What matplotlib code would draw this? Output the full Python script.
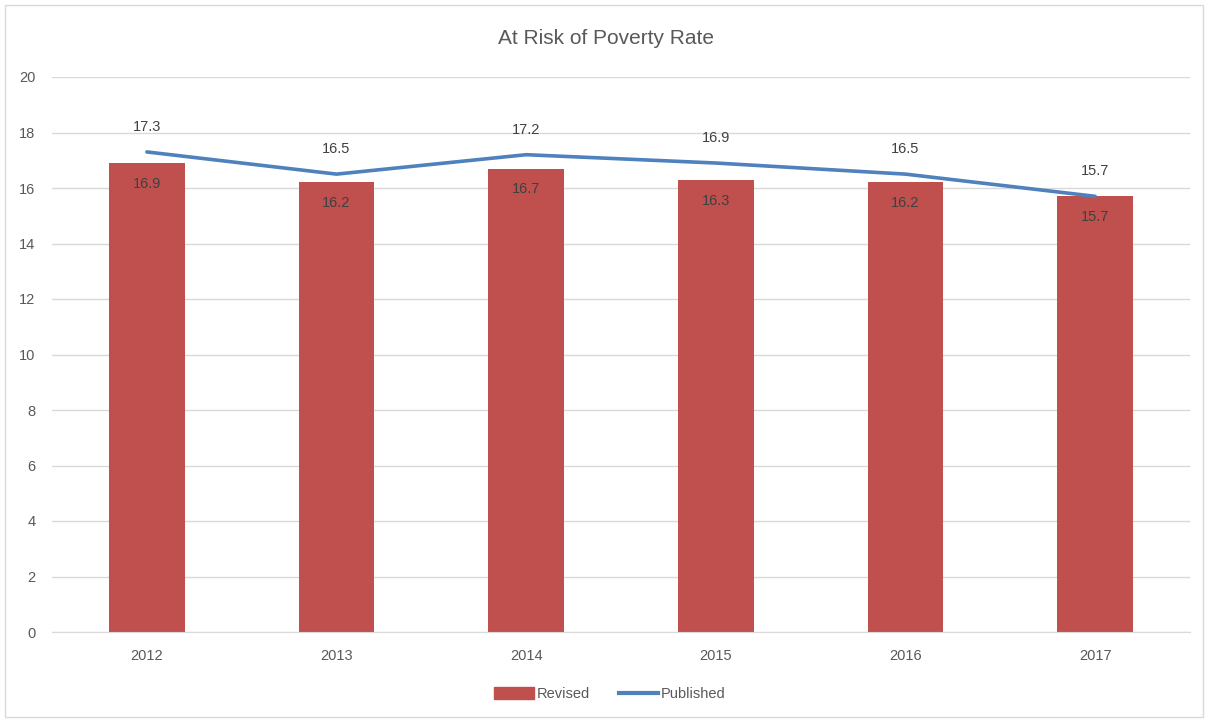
import matplotlib
matplotlib.use("Agg")
import matplotlib.pyplot as plt
from matplotlib.patches import Rectangle
from matplotlib.lines import Line2D
import numpy as np

years = ["2012", "2013", "2014", "2015", "2016", "2017"]
revised = [16.9, 16.2, 16.7, 16.3, 16.2, 15.7]
published = [17.3, 16.5, 17.2, 16.9, 16.5, 15.7]
y_ticks = [0, 2, 4, 6, 8, 10, 12, 14, 16, 18, 20]

BAR_COLOR = "#C0504D"
LINE_COLOR = "#4F81BD"
TEXT_COLOR = "#595959"
GRID_COLOR = "#D9D9D9"

plt.rcParams["font.family"] = ["Liberation Sans", "DejaVu Sans"]

W, H = 1208, 722
fig = plt.figure(figsize=(W / 100, H / 100), dpi=100)
ax = fig.add_axes([52 / W, 1 - 632 / H, (1190 - 52) / W, (632 - 77) / H])

# outer chart border
fig.patches.append(Rectangle((5 / W, 5 / H), (1203 - 5) / W, (717 - 5) / H,
                             transform=fig.transFigure, fill=False,
                             edgecolor="#D9D9D9", linewidth=1))

x = np.arange(len(years))
ax.bar(x, revised, width=0.4, color=BAR_COLOR, zorder=2, label="Revised")
ax.plot(x, published, color=LINE_COLOR, linewidth=2.6, zorder=3,
        solid_capstyle="round", label="Published")

for xi, v in zip(x, revised):
    ax.annotate(f"{v:.1f}", (xi, v), xytext=(0, -15), textcoords="offset points",
                ha="center", va="center", fontsize=10.5, color="#404040", zorder=4)
for xi, v in zip(x, published):
    ax.annotate(f"{v:.1f}", (xi, v), xytext=(0, 18), textcoords="offset points",
                ha="center", va="center", fontsize=10.5, color="#404040", zorder=4)

ax.set_xlim(-0.5, len(years) - 0.5)
ax.set_ylim(0, 20)
ax.set_yticks(y_ticks)
ax.set_yticklabels([str(t) for t in y_ticks])
ax.set_xticks(x)
ax.set_xticklabels(years)
ax.yaxis.grid(True, color=GRID_COLOR, linewidth=1, zorder=0)
ax.set_axisbelow(True)
for side in ["top", "right", "left"]:
    ax.spines[side].set_visible(False)
ax.spines["bottom"].set_color(GRID_COLOR)
ax.tick_params(axis="both", length=0, colors=TEXT_COLOR, labelsize=10.5)
ax.tick_params(axis="y", pad=12)
ax.tick_params(axis="x", pad=12)

fig.text(606 / W, 1 - 38 / H, "At Risk of Poverty Rate", ha="center", va="center",
         fontsize=15, color=TEXT_COLOR)

handles = [Rectangle((0, 0), 1, 1, color=BAR_COLOR),
           Line2D([0], [0], color=LINE_COLOR, linewidth=3)]
fig.legend(handles, ["Revised", "Published"], loc="center",
           bbox_to_anchor=(610 / W, 1 - 694 / H), ncol=2, frameon=False,
           fontsize=10.5, labelcolor=TEXT_COLOR, handlelength=2.7,
           handletextpad=0.2, columnspacing=2.0, handleheight=0.8)

fig.savefig("out.png", dpi=100)
